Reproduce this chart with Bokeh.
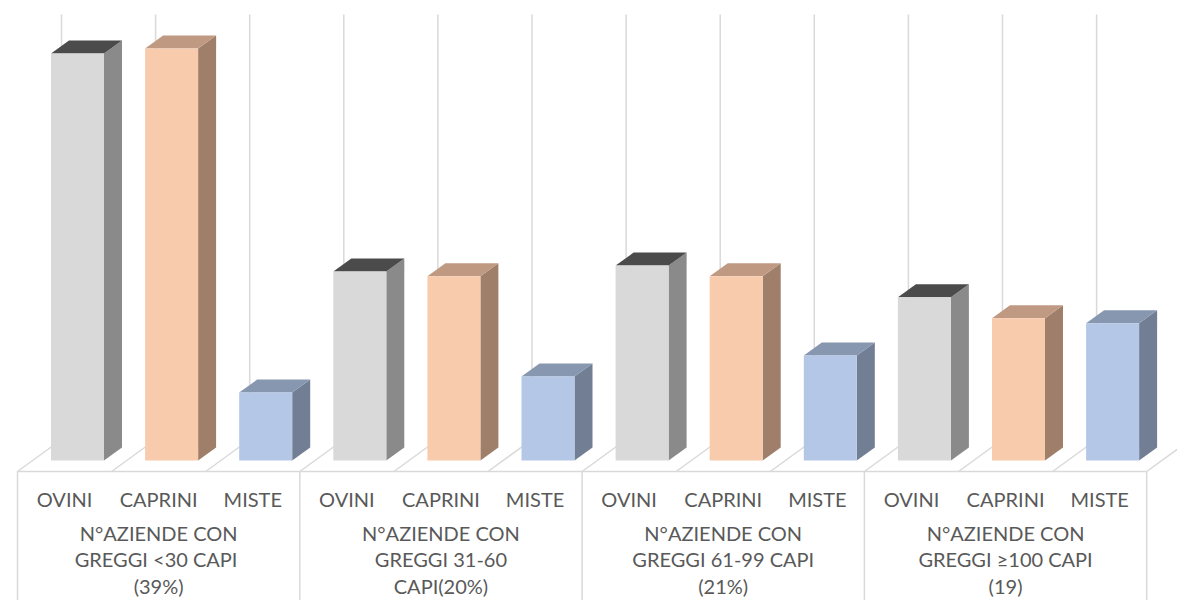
from bokeh.plotting import figure
from bokeh.models import Range1d
from bokeh.embed import file_html
from bokeh.resources import INLINE
from bokeh.core.properties import value

# ---------------- data ----------------
categories = ["OVINI", "CAPRINI", "MISTE"]
groups = [
    "N°AZIENDE CON\nGREGGI  <30 CAPI\n(39%)",
    "N°AZIENDE CON\nGREGGI 31-60\nCAPI(20%)",
    "N°AZIENDE CON\nGREGGI 61-99 CAPI\n(21%)",
    "N°AZIENDE CON\nGREGGI ≥100 CAPI\n(19)",
]
ovini = [98.8, 45.9, 47.3, 39.6]
caprini = [100.0, 44.7, 44.7, 34.5]
miste = [16.5, 20.4, 25.5, 33.3]
series = [ovini, caprini, miste]

# ---------------- styles ----------------
front_colors = ["#d9d9d9", "#f8cbad", "#b4c7e7"]
side_colors = ["#8a8a8a", "#9f7f6a", "#717e93"]
top_colors = ["#4b4b4b", "#bf9982", "#8797b0"]
GRID = "#d9d9d9"
TEXT = "#595959"
FONT = "Lato"

W, H = 1177, 600
SLOT_PX = 94.1     # width of one category slot
UNIT_PX = 4.12     # pixels per value unit
ORIGIN_X = 17.0    # px from left of slot 0 (front floor edge)
BASE_Y = 140.0     # px from bottom of bar base

dx = 1.0 / SLOT_PX
dy = 1.0 / UNIT_PX
x_start = -ORIGIN_X * dx
x_end = x_start + W * dx
y_start = -BASE_Y * dy
y_end = y_start + H * dy

p = figure(width=W, height=H, x_range=Range1d(x_start, x_end),
           y_range=Range1d(y_start, y_end), output_backend="svg",
           toolbar_location=None, x_axis_type=None, y_axis_type=None,
           min_border=0, background_fill_color="white")
p.outline_line_color = None
p.grid.visible = False

n_slots = len(groups) * len(categories)
y_front = -11 * dy
y_back = y_front + 32 * dy
floor_dx = 44 * dx
grid_top = 446 * dy

# back-wall gridlines and floor lines
ks = list(range(n_slots + 1))
p.segment(x0=[k + floor_dx for k in ks], y0=[y_back] * len(ks),
          x1=[k + floor_dx for k in ks], y1=[grid_top] * len(ks),
          line_color=GRID, line_width=1.5)
p.segment(x0=ks, y0=[y_front] * len(ks),
          x1=[k + floor_dx for k in ks], y1=[y_back] * len(ks),
          line_color=GRID, line_width=1.5)

# table lines
p.segment(x0=[0], y0=[y_front], x1=[n_slots], y1=[y_front],
          line_color=GRID, line_width=1.5)
gx = [3 * g for g in range(len(groups) + 1)]
p.segment(x0=gx, y0=[y_front] * len(gx), x1=gx, y1=[y_start - 5] * len(gx),
          line_color=GRID, line_width=1.5)

# bars (3D)
plane = 15 * dx
bl, br = 18.5 * dx, 71.5 * dx
ddx, ddy = 18 * dx, 13 * dy
for ci, vals in enumerate(series):
    lefts, rights, tops = [], [], []
    sxs, sys, txs, tys = [], [], [], []
    for g, v in enumerate(vals):
        s = g * 3 + ci
        l = s + plane + bl
        r = s + plane + br
        lefts.append(l); rights.append(r); tops.append(v)
        sxs.append([r, r + ddx, r + ddx, r])
        sys.append([0, ddy, v + ddy, v])
        txs.append([l, r, r + ddx, l + ddx])
        tys.append([v, v, v + ddy, v + ddy])
    p.patches(sxs, sys, fill_color=side_colors[ci], line_color=None)
    p.patches(txs, tys, fill_color=top_colors[ci], line_color=None)
    p.quad(left=lefts, right=rights, bottom=[0] * len(vals), top=tops,
           fill_color=front_colors[ci], line_color=None)

# category labels
cx, ct = [], []
for g in range(len(groups)):
    for ci, c in enumerate(categories):
        cx.append(g * 3 + ci + 0.5)
        ct.append(c)
p.text(x=cx, y=[-38 * dy] * len(cx), text=ct, text_align="center",
       text_baseline="alphabetic", text_font=value(FONT),
       text_font_size="20px", text_color=TEXT)

# group labels
p.text(x=[3 * g + 1.5 for g in range(len(groups))],
       y=[-60 * dy] * len(groups), text=groups, text_align="center",
       text_baseline="top", text_font=value(FONT), text_font_size="20px",
       text_line_height=1.12, text_color=TEXT)

open("out.html", "w").write(file_html(p, INLINE))
